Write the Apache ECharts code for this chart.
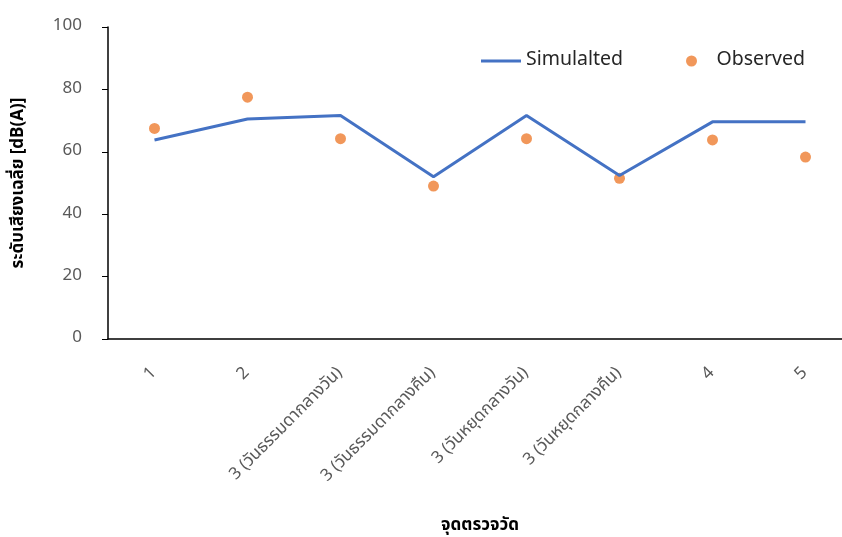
<!DOCTYPE html>
<html><head><meta charset="utf-8">
<script src="https://cdn.jsdelivr.net/npm/echarts@6/dist/echarts.min.js"></script>
<style>html,body{margin:0;padding:0;background:#fff}#c{width:842px;height:537px}</style>
</head><body><div id="c"></div>
<script>
const categories = ["1","2","3 (วันธรรมดากลางวัน)","3 (วันธรรมดากลางคืน)","3 (วันหยุดกลางวัน)","3 (วันหยุดกลางคืน)","4","5"];
const simulated = [63.8, 70.5, 71.6, 52.0, 71.6, 52.4, 69.6, 69.6];
const observed = [67.5, 77.5, 64.2, 49.0, 64.2, 51.5, 63.8, 58.3];
const yTicks = [0, 20, 40, 60, 80, 100];
const FONT = '"Noto Sans Thai","Noto Sans","DejaVu Sans",sans-serif';
const chart = echarts.init(document.getElementById('c'));
chart.setOption({
  animation:false,
  textStyle:{fontFamily:FONT},
  grid:{left:108, top:27, bottom:198, width:744, containLabel:false, outerBoundsMode:'none'},
  legend:[
    {data:[{name:'Simulalted', icon:'rect'}], left:476, top:46, itemWidth:40, itemHeight:3, itemStyle:{color:'#4472C4'}, textStyle:{fontSize:19.5,color:'#262626',fontFamily:FONT}},
    {data:['Observed'], left:681, top:46, itemWidth:40, itemHeight:11, textStyle:{fontSize:19.5,color:'#262626',fontFamily:FONT}}
  ],
  xAxis:{
    type:'category', data:categories, boundaryGap:true,
    name:'จุดตรวจวัด', nameLocation:'middle', nameGap:179,
    nameTextStyle:{fontSize:17,fontWeight:'bold',color:'#000',fontFamily:FONT},
    axisLine:{lineStyle:{color:'#000',width:1.5}},
    axisTick:{alignWithLabel:true,length:6,lineStyle:{color:'#000'}},
    axisLabel:{rotate:45,fontSize:17,color:'#595959',margin:32,fontFamily:FONT,interval:0}
  },
  yAxis:{
    type:'value', min:yTicks[0], max:yTicks[yTicks.length-1], interval:20,
    name:'ระดับเสียงเฉลี่ย [dB(A)]', nameLocation:'middle', nameGap:80,
    nameTextStyle:{fontSize:17,fontWeight:'bold',color:'#000',fontFamily:FONT},
    axisLine:{show:true,lineStyle:{color:'#000',width:1.5}},
    axisTick:{show:true,length:6,lineStyle:{color:'#000'}},
    axisLabel:{fontSize:17,color:'#595959',margin:26,fontFamily:FONT},
    splitLine:{show:false}
  },
  series:[
    {name:'Simulalted', type:'line', data:simulated, symbol:'none',
     lineStyle:{color:'#4472C4',width:3}, itemStyle:{color:'#4472C4'}},
    {name:'Observed', type:'scatter', data:observed, symbol:'circle', symbolSize:11,
     itemStyle:{color:'#ED7D31'}}
  ]
});
</script></body></html>
